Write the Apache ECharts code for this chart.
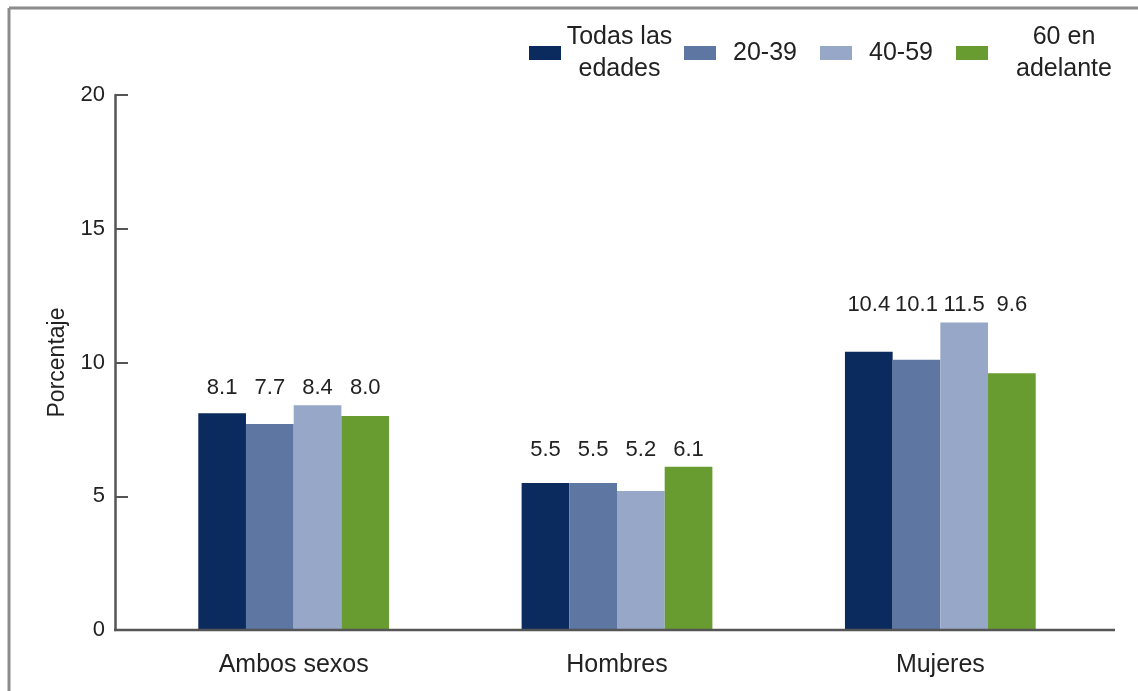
<!DOCTYPE html>
<html>
<head>
<meta charset="utf-8">
<script src="https://cdn.jsdelivr.net/npm/echarts@6/dist/echarts.min.js"></script>
<style>
html,body{margin:0;padding:0;background:#fff;}
#chart{width:1138px;height:691px;}
</style>
</head>
<body>
<div id="chart"></div>
<script>
const categories = ['Ambos sexos', 'Hombres', 'Mujeres'];
const seriesNames = ['Todas las\nedades', '20-39', '40-59', '60 en\nadelante'];
const todasLasEdades = [8.1, 5.5, 10.4];
const edad20a39 = [7.7, 5.5, 10.1];
const edad40a59 = [8.4, 5.2, 11.5];
const edad60mas = [8.0, 6.1, 9.6];
const yTicks = [0, 5, 10, 15, 20];

const seriesData = [todasLasEdades, edad20a39, edad40a59, edad60mas];
const colors = ['#0b2a5e', '#5d76a2', '#97a7c8', '#689b30'];
const legendWidths = [107, 88, 88, 142];

const gridTop = 95, gridBottom = 61, chartH = 691;
const gridLeft = 132, gridRight = 36, axisLeft = 115, axisRight = 1115;
const yMax = yTicks[yTicks.length - 1];
const ppu = (chartH - gridTop - gridBottom) / yMax;
const groupMax = categories.map((c, i) => Math.max(...seriesData.map(s => s[i])));

const rich = {};
legendWidths.forEach((w, i) => { rich['w' + i] = { width: w, align: 'center', fontSize: 25, lineHeight: 32, color: '#222' }; });

const chart = echarts.init(document.getElementById('chart'));
chart.setOption({
  animation: false,
  textStyle: { fontFamily: 'Liberation Sans, Arial, sans-serif' },
  color: colors,
  graphic: [
    { type: 'line', shape: { x1: 9, y1: 8, x2: 1138, y2: 8 }, style: { stroke: '#8c8c8c', lineWidth: 3 } },
    { type: 'line', shape: { x1: 9, y1: 8, x2: 9, y2: 691 }, style: { stroke: '#8c8c8c', lineWidth: 3 } },
    { type: 'line', z: 10, shape: { x1: axisLeft - 1, y1: chartH - gridBottom, x2: axisRight, y2: chartH - gridBottom }, style: { stroke: '#555', lineWidth: 2.5 } }
  ],
  legend: {
    top: 16,
    left: 524,
    width: 614,
    itemWidth: 32,
    itemHeight: 14,
    itemGap: 11,
    icon: 'rect',
    formatter: (name) => {
      const idx = seriesNames.indexOf(name);
      return name.split('\n').map(l => '{w' + idx + '|' + l + '}').join('\n');
    },
    textStyle: { fontSize: 25, color: '#222', lineHeight: 32, rich: rich },
    data: seriesNames
  },
  grid: { left: gridLeft, right: gridRight, top: gridTop, bottom: gridBottom },
  xAxis: {
    type: 'category',
    data: categories,
    axisLine: { show: false },
    axisTick: { show: false },
    axisLabel: { fontSize: 25, color: '#222', margin: 23 }
  },
  yAxis: {
    type: 'value',
    min: 0,
    max: yMax,
    interval: 5,
    offset: gridLeft - axisLeft,
    name: 'Porcentaje',
    nameLocation: 'middle',
    nameGap: 44,
    nameTextStyle: { fontSize: 23, color: '#222' },
    axisLine: { show: true, lineStyle: { color: '#555', width: 2.5 } },
    axisTick: { show: true, inside: true, length: 13, lineStyle: { color: '#555', width: 2 } },
    axisLabel: { fontSize: 22, color: '#222', margin: 10 },
    splitLine: { show: false }
  },
  series: seriesData.map((d, si) => ({
    name: seriesNames[si],
    type: 'bar',
    barGap: '0%',
    barCategoryGap: '41%',
    data: d.map((v, i) => ({
      value: v,
      label: {
        show: true,
        position: 'top',
        distance: 0,
        offset: [0, -(groupMax[i] - v) * ppu - 6],
        formatter: (p) => p.value.toFixed(1),
        fontSize: 22,
        color: '#222'
      }
    }))
  }))
});
</script>
</body>
</html>
